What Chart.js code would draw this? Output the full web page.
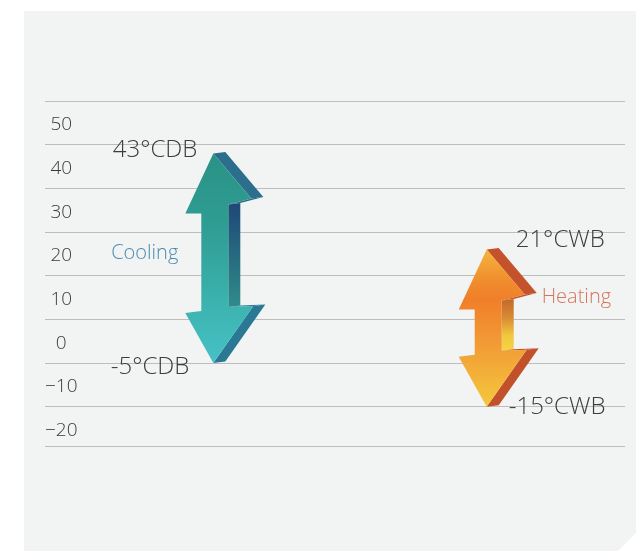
<!DOCTYPE html>
<html>
<head>
<meta charset="utf-8">
<script src="https://cdn.jsdelivr.net/npm/chart.js@4"></script>
<style>
  html, body { margin: 0; padding: 0; background: #ffffff; }
  canvas { display: block; }
</style>
</head>
<body>
<canvas id="c" width="636" height="551"></canvas>
<script>
// Operating ranges (outdoor temperature, °C)
const categories = ['Cooling', 'Heating'];
const rangeHigh = [43, 21];
const rangeLow = [-5, -15];
const rangeUnits = ['°CDB', '°CWB'];
const tickValues = [50, 40, 30, 20, 10, 0, -10, -20];

const FONT = "'Open Sans', 'Noto Sans', 'Liberation Sans', sans-serif";
const AXIS_MIN = -24;
const AXIS_MAX = 55;

// grid lines sit halfway between the labelled values, plus one closing line at the bottom
const bandEdges = tickValues.map(v => v + 5).concat([AXIS_MIN]);

// arrow look
const arrowStyle = [
  {
    front: [[0, '#2a9287'], [0.35, '#2f9d93'], [0.7, '#3bb2ae'], [1, '#47c1c6']],
    headSide: '#2b6f8d',
    lowHeadSide: '#2a7894',
    shaftSide: [[0, '#1e4977'], [0.5, '#276a80'], [1, '#2f8c89']]
  },
  {
    front: [[0, '#f4b43e'], [0.22, '#f08a2c'], [0.32, '#f07f2a'], [0.62, '#f29d36'], [1, '#f4c83d']],
    headSide: '#c4532b',
    lowHeadSide: '#c2512b',
    shaftSide: [[0, '#c66a2a'], [0.35, '#d88c33'], [0.7, '#f1c83e'], [1, '#f5d443']]
  }
];

// label placement around each arrow (side -1 = left of arrow, 1 = right)
const labelStyle = [
  { side: -1, highDx: 16, highDy: -3, lowDx: 24, lowDy: 4, nameDx: 35, nameDy: -5, nameColor: '#4a8db1' },
  { side: 1, highDx: 29, highDy: -9, lowDx: 22, lowDy: 0, nameDx: 55, nameDy: -31, nameColor: '#d5765a' }
];

function makeGradient(ctx, y0, y1, stops) {
  const g = ctx.createLinearGradient(0, y0, 0, y1);
  stops.forEach(s => g.addColorStop(s[0], s[1]));
  return g;
}

// panel behind the chart, with a clipped lower-right corner
const panelPlugin = {
  id: 'panel',
  beforeDraw(chart) {
    const ctx = chart.ctx;
    ctx.save();
    ctx.fillStyle = '#ffffff';
    ctx.fillRect(0, 0, chart.width, chart.height);
    ctx.fillStyle = '#f2f3f3';
    ctx.beginPath();
    ctx.moveTo(24, 11);
    ctx.lineTo(chart.width, 11);
    ctx.lineTo(chart.width, chart.height - 18);
    ctx.lineTo(chart.width - 18, chart.height);
    ctx.lineTo(24, chart.height);
    ctx.closePath();
    ctx.fill();
    ctx.restore();
  }
};

// draws each floating bar as an extruded double-headed arrow
const arrowPlugin = {
  id: 'arrows',
  afterDatasetsDraw(chart) {
    const ctx = chart.ctx;
    const meta = chart.getDatasetMeta(0);
    meta.data.forEach((el, i) => {
      const cx = el.x;
      const top = Math.min(el.y, el.base);
      const bot = Math.max(el.y, el.base);
      const L = bot - top;
      const st = arrowStyle[i];
      const rel = [
        [0, 0], [38, 45], [15, 51], [15, L - 56], [40, L - 57],
        [0, L], [-28, L - 50], [-12, L - 52], [-12, 60], [-28, 60]
      ];
      const P = rel.map(p => [cx + p[0], top + p[1]]);
      const e = [12, -1.5];
      const quad = (a, b, fill) => {
        ctx.beginPath();
        ctx.moveTo(a[0], a[1]);
        ctx.lineTo(a[0] + e[0], a[1] + e[1]);
        ctx.lineTo(b[0] + e[0], b[1] + e[1]);
        ctx.lineTo(b[0], b[1]);
        ctx.closePath();
        ctx.fillStyle = fill;
        ctx.fill();
      };
      ctx.save();
      // side faces
      quad(P[0], P[1], st.headSide);
      quad(P[1], P[2], st.headSide);
      quad(P[2], P[3], makeGradient(ctx, P[2][1], P[3][1], st.shaftSide));
      quad(P[3], P[4], st.lowHeadSide);
      quad(P[4], P[5], st.lowHeadSide);
      // front face
      ctx.beginPath();
      P.forEach((p, k) => (k ? ctx.lineTo(p[0], p[1]) : ctx.moveTo(p[0], p[1])));
      ctx.closePath();
      ctx.fillStyle = makeGradient(ctx, top, bot, st.front);
      ctx.fill();
      ctx.restore();
    });
  },
  afterDraw(chart) {
    const ctx = chart.ctx;
    const meta = chart.getDatasetMeta(0);
    ctx.save();
    ctx.textBaseline = 'middle';
    meta.data.forEach((el, i) => {
      const cx = el.x;
      const top = Math.min(el.y, el.base);
      const bot = Math.max(el.y, el.base);
      const ls = labelStyle[i];
      ctx.textAlign = ls.side < 0 ? 'right' : 'left';
      ctx.fillStyle = '#3c3c3c';
      ctx.font = '300 24px ' + FONT;
      ctx.fillText(rangeHigh[i] + rangeUnits[i], cx + ls.side * ls.highDx, top + ls.highDy);
      ctx.fillText(rangeLow[i] + rangeUnits[i], cx + ls.side * ls.lowDx, bot + ls.lowDy);
      ctx.fillStyle = ls.nameColor;
      ctx.font = '300 20px ' + FONT;
      ctx.fillText(categories[i], cx + ls.side * ls.nameDx, (top + bot) / 2 + ls.nameDy);
    });
    ctx.restore();
  }
};

new Chart(document.getElementById('c'), {
  type: 'bar',
  data: {
    labels: categories,
    datasets: [{
      data: categories.map((c, i) => ({ x: i, y: [rangeLow[i], rangeHigh[i]] })),
      backgroundColor: 'rgba(0,0,0,0)',
      borderWidth: 0,
      barPercentage: 0.3,
      categoryPercentage: 1
    }]
  },
  options: {
    responsive: false,
    devicePixelRatio: 1,
    animation: false,
    events: [],
    layout: { padding: { left: 45, right: 11, top: 101, bottom: 105 } },
    plugins: { legend: { display: false }, tooltip: { enabled: false } },
    scales: {
      x: {
        type: 'linear',
        display: false,
        offset: false,
        min: -0.6156,
        max: 1.5058
      },
      y: {
        position: 'left',
        min: AXIS_MIN,
        max: AXIS_MAX,
        afterBuildTicks: s => { s.ticks = bandEdges.map(v => ({ value: v })); },
        grid: { color: '#bdbdbd', lineWidth: 1, drawTicks: false },
        border: { display: false },
        ticks: { display: false }
      },
      yl: {
        position: 'left',
        min: AXIS_MIN,
        max: AXIS_MAX,
        afterBuildTicks: s => { s.ticks = tickValues.map(v => ({ value: v })); },
        grid: { display: false, drawTicks: false },
        border: { display: false },
        ticks: {
          mirror: true,
          crossAlign: 'center',
          padding: 0,
          labelOffset: 2,
          color: '#3a3a3a',
          font: { family: FONT, size: 19, weight: '300' },
          callback: v => String(v).replace('-', '\u2212')
        }
      }
    }
  },
  plugins: [panelPlugin, arrowPlugin]
});
</script>
</body>
</html>
